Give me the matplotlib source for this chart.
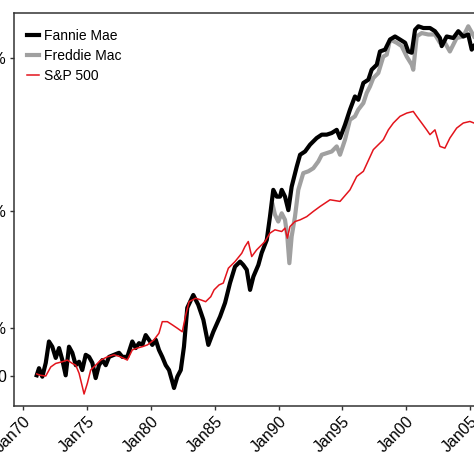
import matplotlib
matplotlib.use('Agg')
import matplotlib.pyplot as plt

plt.rcParams['font.family'] = ['Liberation Sans', 'DejaVu Sans']

# growth of 1 unit invested (log axis)
fannie_years = [
    1971.05, 1971.23, 1971.49, 1971.76, 1972.01, 1972.27, 1972.54, 1972.80,
    1973.06, 1973.32, 1973.58, 1973.84, 1974.11, 1974.37, 1974.62, 1974.89,
    1975.15, 1975.41, 1975.67, 1975.93, 1976.19, 1976.46, 1976.72, 1977.11,
    1977.50, 1977.76, 1978.15, 1978.54, 1978.81, 1979.07, 1979.33, 1979.59,
    1979.85, 1980.11, 1980.38, 1980.63, 1980.89, 1981.16, 1981.42, 1981.68,
    1981.81, 1982.07, 1982.34, 1982.59, 1982.85, 1983.32, 1983.71, 1984.11,
    1984.50, 1984.89, 1985.42, 1985.81, 1986.20, 1986.59, 1986.99, 1987.24,
    1987.51, 1987.77, 1988.03, 1988.42, 1988.68, 1989.08, 1989.33, 1989.59,
    1989.86, 1990.12, 1990.25, 1990.51, 1990.77, 1991.03, 1991.43, 1991.69,
    1992.08, 1992.47, 1992.99, 1993.39, 1993.78, 1994.17, 1994.56, 1994.82,
    1995.21, 1995.60, 1995.99, 1996.25, 1996.65, 1997.04, 1997.30, 1997.70,
    1997.95, 1998.35, 1998.74, 1999.13, 1999.52, 1999.92, 2000.17, 2000.44,
    2000.70, 2000.96, 2001.35, 2001.87, 2002.26, 2002.65, 2002.79, 2003.18,
    2003.70, 2004.09, 2004.48, 2004.87, 2005.14, 2005.32,
]
fannie_vals = [
    1.01, 1.12, 0.99, 1.21, 1.65, 1.53, 1.30, 1.50,
    1.26, 1.01, 1.53, 1.40, 1.17, 1.23, 1.09, 1.36,
    1.32, 1.21, 0.97, 1.17, 1.26, 1.17, 1.32, 1.36,
    1.40, 1.32, 1.32, 1.65, 1.50, 1.61, 1.57, 1.81,
    1.69, 1.57, 1.69, 1.46, 1.32, 1.17, 1.09, 0.92,
    0.84, 0.99, 1.09, 1.53, 2.69, 3.24, 2.81, 2.26,
    1.57, 1.90, 2.37, 2.89, 3.86, 4.89, 5.26, 5.01,
    4.67, 3.49, 4.23, 5.01, 5.97, 7.21, 10.1, 14.9,
    13.5, 13.5, 14.9, 13.5, 11.1, 15.6, 20.9, 24.8,
    26.0, 28.7, 31.6, 33.2, 33.2, 34.0, 35.6, 31.6,
    38.3, 47.7, 57.8, 55.1, 70.3, 73.7, 85.2, 91.6,
    111, 114, 132, 138, 132, 126, 111, 109,
    152, 160, 156, 156, 149, 135, 120, 138,
    135, 149, 138, 142, 114, 120,
]

freddie_years = [
    1989.54, 1989.72, 1989.98, 1990.25, 1990.51, 1990.69, 1990.85, 1991.03,
    1991.29, 1991.55, 1991.94, 1992.34, 1992.73, 1993.12, 1993.39, 1993.78,
    1994.17, 1994.56, 1994.82, 1995.21, 1995.60, 1995.99, 1996.25, 1996.65,
    1996.91, 1997.17, 1997.43, 1997.82, 1998.21, 1998.48, 1998.74, 1999.26,
    1999.65, 2000.05, 2000.44, 2000.56, 2000.83, 2001.22, 2001.74, 2002.26,
    2002.65, 2003.04, 2003.43, 2003.96, 2004.48, 2004.87, 2005.32,
]
freddie_vals = [
    12.0, 10.4, 9.41, 10.6, 9.64, 7.57, 5.14, 7.57,
    10.1, 14.9, 19.0, 19.5, 20.4, 22.5, 24.8, 25.4,
    26.0, 28.0, 24.8, 30.8, 41.2, 43.3, 47.7, 52.5,
    60.8, 66.8, 75.5, 81.2, 103, 106, 132, 126,
    120, 103, 91.6, 85.2, 138, 145, 142, 142,
    126, 126, 111, 135, 138, 160, 138,
]

sp500_years = [
    1971.05, 1971.36, 1971.76, 1972.15, 1972.54, 1973.06, 1973.45, 1973.84,
    1974.11, 1974.37, 1974.62, 1974.76, 1975.02, 1975.28, 1975.67, 1976.07,
    1976.58, 1977.11, 1977.63, 1978.15, 1978.54, 1978.93, 1979.33, 1979.72,
    1980.24, 1980.63, 1980.89, 1981.29, 1981.68, 1982.07, 1982.46, 1982.73,
    1982.99, 1983.51, 1983.90, 1984.29, 1984.69, 1984.95, 1985.34, 1985.67,
    1986.07, 1986.59, 1987.12, 1987.37, 1987.63, 1987.90, 1988.29, 1988.94,
    1989.33, 1989.72, 1990.25, 1990.51, 1990.69, 1990.90, 1991.29, 1991.69,
    1992.21, 1992.73, 1993.25, 1994.04, 1994.82, 1995.60, 1996.13, 1996.65,
    1997.43, 1998.21, 1998.61, 1999.00, 1999.52, 2000.05, 2000.56, 2000.83,
    2001.22, 2001.61, 2001.87, 2002.26, 2002.65, 2003.04, 2003.43, 2003.96,
    2004.48, 2005.00, 2005.32,
]
sp500_vals = [
    1.03, 1.01, 1.00, 1.14, 1.20, 1.23, 1.26, 1.20,
    1.17, 1.04, 0.86, 0.77, 0.90, 1.09, 1.17, 1.26,
    1.32, 1.36, 1.32, 1.26, 1.46, 1.50, 1.53, 1.57,
    1.69, 1.86, 2.20, 2.20, 2.10, 2.00, 1.90, 2.43,
    2.94, 3.09, 3.02, 2.94, 3.16, 3.49, 3.75, 3.85,
    4.78, 5.26, 5.94, 6.54, 7.04, 5.66, 6.24, 7.04,
    7.95, 8.34, 8.14, 8.55, 7.39, 8.75, 9.41, 9.64,
    10.1, 10.9, 11.7, 12.9, 12.6, 14.9, 18.1, 19.5,
    26.7, 30.8, 35.6, 39.3, 43.3, 45.4, 46.5, 43.3,
    39.3, 35.6, 33.2, 35.6, 28.0, 27.3, 31.6, 36.5,
    39.3, 40.2, 39.3,
]

x_ticks = [1970, 1975, 1980, 1985, 1990, 1995, 2000, 2005]
x_labels = ['Jan70', 'Jan75', 'Jan80', 'Jan85', 'Jan90', 'Jan95', 'Jan00', 'Jan05']
y_ticks = [1, 2, 11, 101]
y_labels = ['0', '100%', '1000%', '10000%']

fig = plt.figure(figsize=(4.74, 4.74), dpi=100)
ax = fig.add_axes([14 / 474, 68 / 474, 460 / 474, 393 / 474])

l1, = ax.plot(fannie_years, fannie_vals, color='black', lw=3.0,
              label='Fannie Mae', zorder=3)
l2, = ax.plot(freddie_years, freddie_vals, color='#a0a0a0', lw=3.0,
              label='Freddie Mac', zorder=2)
l3, = ax.plot(sp500_years, sp500_vals, color='#e3141c', lw=1.1,
              label='S&P 500', zorder=4)

ax.set_yscale('log')
ax.set_xlim(1969.27, 2005.32)
ax.set_ylim(0.647, 194)
ax.set_yticks(y_ticks)
ax.set_yticklabels(y_labels)
ax.minorticks_off()
ax.set_xticks(x_ticks)
ax.set_xticklabels(x_labels, rotation=45, ha='right', va='top',
                   rotation_mode='anchor')
ax.tick_params(axis='both', labelsize=11.5, length=3, width=1.0,
               color='#333333', pad=2.5)

for s in ('left', 'bottom', 'top'):
    ax.spines[s].set_linewidth(1.1)
    ax.spines[s].set_color('#333333')
ax.spines['right'].set_visible(False)

ax.legend(handles=[l1, l2, l3], loc='upper left', frameon=False,
          fontsize=10, handlelength=0.9, handletextpad=0.35,
          labelspacing=0.45, bbox_to_anchor=(-0.002, 0.995),
          borderaxespad=0.6)

fig.savefig('out.png', dpi=100)
